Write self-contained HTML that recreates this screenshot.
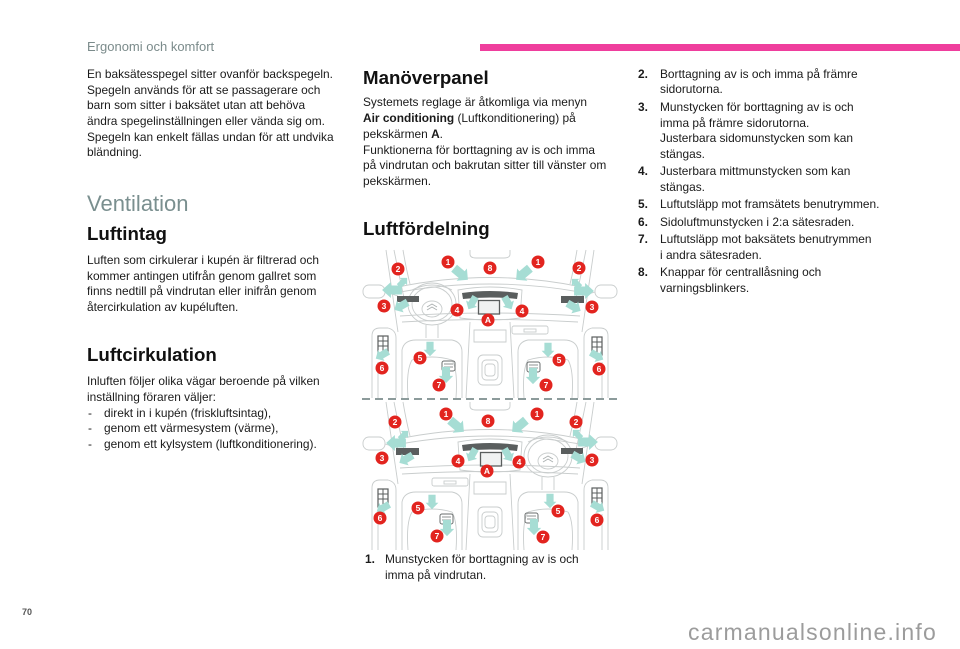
<!DOCTYPE html>
<html><head><meta charset="utf-8">
<style>
html,body{margin:0;padding:0;background:#fff;}
body{width:960px;height:649px;position:relative;overflow:hidden;font-family:"Liberation Sans",Arial,sans-serif;color:#1a1a1a;}
.a{position:absolute;white-space:nowrap;}
.p{font-size:11.9px;line-height:15.6px;}
.h{font-size:18.7px;line-height:18.7px;font-weight:bold;color:#111;}
.li{position:absolute;font-size:11.9px;line-height:15.7px;white-space:nowrap;}
.li b{position:absolute;left:-22px;top:0;}
</style></head><body>

<div class="a" style="left:87px;top:39.5px;font-size:13px;line-height:13px;color:#7b8b8b;">Ergonomi och komfort</div>
<div style="position:absolute;left:480px;top:44px;width:480px;height:6.5px;background:#ef3e9d;"></div>

<div class="a p" style="left:87px;top:67.2px;">En baksätesspegel sitter ovanför backspegeln.<br>Spegeln används för att se passagerare och<br>barn som sitter i baksätet utan att behöva<br>ändra spegelinställningen eller vända sig om.<br>Spegeln kan enkelt fällas undan för att undvika<br>bländning.</div>

<div class="a" style="left:87px;top:193px;font-size:22px;line-height:22px;color:#7a8f8f;">Ventilation</div>

<div class="a h" style="left:87px;top:224.9px;">Luftintag</div>
<div class="a p" style="left:87px;top:253.2px;">Luften som cirkulerar i kupén är filtrerad och<br>kommer antingen utifrån genom gallret som<br>finns nedtill på vindrutan eller inifrån genom<br>återcirkulation av kupéluften.</div>

<div class="a h" style="left:87px;top:345.9px;">Luftcirkulation</div>
<div class="a p" style="left:87px;top:374.2px;">Inluften följer olika vägar beroende på vilken<br>inställning föraren väljer:</div>
<div class="a p" style="left:88px;top:405.6px;">-<br>-<br>-</div>
<div class="a p" style="left:104px;top:405.6px;">direkt in i kupén (friskluftsintag),<br>genom ett värmesystem (värme),<br>genom ett kylsystem (luftkonditionering).</div>

<div class="a h" style="left:363px;top:69.2px;">Manöverpanel</div>
<div class="a p" style="left:363px;top:95.2px;line-height:15.8px;">Systemets reglage är åtkomliga via menyn<br><b>Air conditioning</b> (Luftkonditionering) på<br>pekskärmen <b>A</b>.<br>Funktionerna för borttagning av is och imma<br>på vindrutan och bakrutan sitter till vänster om<br>pekskärmen.</div>

<div class="a h" style="left:363px;top:220.2px;">Luftfördelning</div>

<div class="li" style="left:385px;top:552.2px;"><b style="left:-20px;">1.</b>Munstycken för borttagning av is och<br>imma på vindrutan.</div>

<div class="li" style="left:660px;top:66.7px;"><b>2.</b>Borttagning av is och imma på främre<br>sidorutorna.</div>
<div class="li" style="left:660px;top:99.8px;"><b>3.</b>Munstycken för borttagning av is och<br>imma på främre sidorutorna.<br>Justerbara sidomunstycken som kan<br>stängas.</div>
<div class="li" style="left:660px;top:164.3px;"><b>4.</b>Justerbara mittmunstycken som kan<br>stängas.</div>
<div class="li" style="left:660px;top:197.4px;"><b>5.</b>Luftutsläpp mot framsätets benutrymmen.</div>
<div class="li" style="left:660px;top:214.8px;"><b>6.</b>Sidoluftmunstycken i 2:a sätesraden.</div>
<div class="li" style="left:660px;top:232.2px;"><b>7.</b>Luftutsläpp mot baksätets benutrymmen<br>i andra sätesraden.</div>
<div class="li" style="left:660px;top:265.3px;"><b>8.</b>Knappar för centrallåsning och<br>varningsblinkers.</div>

<svg style="position:absolute;left:362px;top:248px;" width="258" height="304" viewBox="362 248 258 304">
<defs>
<path id="ar" d="M-9,-4.5 L1,-4.5 L1,-8 L9,0 L1,8 L1,4.5 L-9,4.5 Z" fill="#a6ddd4"/>
<g id="art">
 <g fill="none" stroke="#c9cdcd" stroke-width="0.9">
  <path d="M386,250 Q392,290 398,332"/>
  <path d="M394,250 Q399,275 404,298"/>
  <path d="M403,250 Q406,268 410,284"/>
  <path d="M594,250 Q588,290 582,332"/>
  <path d="M586,250 Q581,275 576,298"/>
  <path d="M577,250 Q574,268 570,284"/>
  <path d="M470,250 L470,254 Q470,258 476,258 L504,258 Q510,258 510,254 L510,250"/>
  <rect x="363" y="285" width="22" height="13" rx="6"/>
  <rect x="595" y="285" width="22" height="13" rx="6"/>
  <path d="M385,292 L398,296"/><path d="M595,292 L582,296"/>
  <path d="M398,287 Q490,268 582,287"/>
  <path d="M400,292 Q490,276 580,292"/>
  <path d="M400,316 Q490,310 580,316"/>
  <path d="M402,322 Q490,317 578,322"/>
  <path d="M412,290 Q432,280 452,290"/>
  <ellipse cx="432" cy="304" rx="24" ry="21"/>
  <ellipse cx="432" cy="304" rx="20" ry="17"/>
  <ellipse cx="432" cy="309" rx="10" ry="8"/>
  <path d="M427,307 L432,304 L437,307 M427,310 L432,307 L437,310" stroke="#aab0b0"/>
  <path d="M426,325 L426,338 M438,325 L438,338"/>
  <path d="M458,290 Q490,284 522,290 L520,318 Q490,322 460,318 Z"/>
  <rect x="512" y="326" width="36" height="8" rx="2"/>
  <rect x="524" y="329" width="12" height="3"/>
  <path d="M470,322 L466,398 M510,322 L514,398"/>
  <path d="M474,330 L506,330 L506,342 L474,342 Z"/>
  <rect x="478" y="355" width="24" height="30" rx="5"/>
  <rect x="482" y="360" width="16" height="20" rx="4"/>
  <rect x="485" y="364" width="10" height="12" rx="3"/>
  <path d="M402,398 L402,350 Q404,340 416,340 L452,340 Q462,342 462,352 L462,398"/>
  <path d="M578,398 L578,350 Q576,340 564,340 L528,340 Q518,342 518,352 L518,398"/>
  <path d="M408,398 Q406,370 412,360 M456,398 Q458,370 452,360"/>
  <path d="M572,398 Q574,370 568,360 M524,398 Q522,370 528,360"/>
  <path d="M412,360 Q432,354 452,360 M528,360 Q548,354 568,360"/>
  <path d="M372,398 L372,336 Q372,328 380,328 L388,328 Q396,330 396,338 L396,398"/>
  <path d="M608,398 L608,336 Q608,328 600,328 L592,328 Q584,330 584,338 L584,398"/>
  <path d="M378,362 L378,398 M602,362 L602,398"/>
 </g>
 <path d="M462,293 Q490,289 518,293 L517,299 Q490,296 463,299 Z" fill="#5a5e5e"/>
 <rect x="478.5" y="300.5" width="21" height="13.5" fill="#f0f2f2" stroke="#5a5e5e" stroke-width="1.3"/>
 <rect x="397" y="296" width="22" height="6" fill="#5a5e5e"/>
 <rect x="561" y="296" width="23" height="7" fill="#5a5e5e"/>
 <rect x="378" y="336" width="10" height="18" fill="none" stroke="#5a5e5e" stroke-width="1.2"/>
 <path d="M378,341 L388,341 M378,346 L388,346 M383,336 L383,354" stroke="#5a5e5e" stroke-width="1"/>
 <rect x="592" y="337" width="10" height="18" fill="none" stroke="#5a5e5e" stroke-width="1.2"/>
 <path d="M592,342 L602,342 M592,347 L602,347 M597,337 L597,355" stroke="#5a5e5e" stroke-width="1"/>
 <rect x="442" y="361" width="13" height="10" rx="2" fill="none" stroke="#6a6e6e" stroke-width="1"/>
 <path d="M444,364 L453,364 M444,367 L453,367" stroke="#6a6e6e" stroke-width="0.8"/>
 <rect x="527" y="362" width="13" height="10" rx="2" fill="none" stroke="#6a6e6e" stroke-width="1"/>
 <path d="M529,365 L538,365 M529,368 L538,368" stroke="#6a6e6e" stroke-width="0.8"/>
 <use href="#ar" transform="translate(461,274) rotate(40)"/>
 <use href="#ar" transform="translate(523,274) rotate(140)"/>
 <use href="#ar" transform="translate(403,282) rotate(-45) scale(.65)"/>
 <use href="#ar" transform="translate(392,290) rotate(180) scale(1.1,1)"/>
 <use href="#ar" transform="translate(401,306) rotate(150) scale(.85)"/>
 <use href="#ar" transform="translate(576,283) rotate(-135) scale(.65)"/>
 <use href="#ar" transform="translate(584,291) rotate(0) scale(1.1,1)"/>
 <use href="#ar" transform="translate(574,307) rotate(30) scale(.85)"/>
 <use href="#ar" transform="translate(472,303) rotate(120) scale(.8)"/>
 <use href="#ar" transform="translate(508,303) rotate(60) scale(.8)"/>
 <use href="#ar" transform="translate(430,349) rotate(90) scale(.8)"/>
 <use href="#ar" transform="translate(548,350) rotate(90) scale(.8)"/>
 <use href="#ar" transform="translate(382,355) rotate(150) scale(.8)"/>
 <use href="#ar" transform="translate(597,356) rotate(30) scale(.8)"/>
 <use href="#ar" transform="translate(446,375) rotate(90) scale(.9)"/>
 <use href="#ar" transform="translate(533,376) rotate(90) scale(.9)"/>
</g>
</defs>
<use href="#art"/>
<use href="#art" transform="translate(980,152) scale(-1,1)"/>
<line x1="362" y1="399" x2="618" y2="399" stroke="#8c9b9b" stroke-width="2" stroke-dasharray="8,5"/>
<g fill="#e2241f">
 <circle cx="448" cy="262" r="6.5"/><circle cx="490" cy="268" r="6.5"/><circle cx="538" cy="262" r="6.5"/>
 <circle cx="398" cy="269" r="6.5"/><circle cx="579" cy="268" r="6.5"/>
 <circle cx="384" cy="306" r="6.5"/><circle cx="592" cy="307" r="6.5"/>
 <circle cx="457" cy="310" r="6.5"/><circle cx="522" cy="311" r="6.5"/><circle cx="488" cy="320" r="6.5"/>
 <circle cx="420" cy="358" r="6.5"/><circle cx="559" cy="360" r="6.5"/>
 <circle cx="382" cy="368" r="6.5"/><circle cx="599" cy="369" r="6.5"/>
 <circle cx="439" cy="385" r="6.5"/><circle cx="546" cy="385" r="6.5"/>
 <circle cx="446" cy="414" r="6.5"/><circle cx="488" cy="421" r="6.5"/><circle cx="537" cy="414" r="6.5"/>
 <circle cx="395" cy="422" r="6.5"/><circle cx="576" cy="422" r="6.5"/>
 <circle cx="382" cy="458" r="6.5"/><circle cx="592" cy="460" r="6.5"/>
 <circle cx="458" cy="461" r="6.5"/><circle cx="519" cy="462" r="6.5"/><circle cx="487" cy="471" r="6.5"/>
 <circle cx="418" cy="508" r="6.5"/><circle cx="558" cy="511" r="6.5"/>
 <circle cx="380" cy="518" r="6.5"/><circle cx="597" cy="520" r="6.5"/>
 <circle cx="437" cy="536" r="6.5"/><circle cx="543" cy="537" r="6.5"/>
</g>
<g fill="#fff" font-family="Liberation Sans, Arial, sans-serif" font-weight="bold" font-size="8.5" text-anchor="middle">
 <text x="448" y="265">1</text><text x="490" y="271">8</text><text x="538" y="265">1</text>
 <text x="398" y="272">2</text><text x="579" y="271">2</text>
 <text x="384" y="309">3</text><text x="592" y="310">3</text>
 <text x="457" y="313">4</text><text x="522" y="314">4</text><text x="488" y="323">A</text>
 <text x="420" y="361">5</text><text x="559" y="363">5</text>
 <text x="382" y="371">6</text><text x="599" y="372">6</text>
 <text x="439" y="388">7</text><text x="546" y="388">7</text>
 <text x="446" y="417">1</text><text x="488" y="424">8</text><text x="537" y="417">1</text>
 <text x="395" y="425">2</text><text x="576" y="425">2</text>
 <text x="382" y="461">3</text><text x="592" y="463">3</text>
 <text x="458" y="464">4</text><text x="519" y="465">4</text><text x="487" y="474">A</text>
 <text x="418" y="511">5</text><text x="558" y="514">5</text>
 <text x="380" y="521">6</text><text x="597" y="523">6</text>
 <text x="437" y="539">7</text><text x="543" y="540">7</text>
</g>
</svg>

<div class="a" style="left:22px;top:607px;font-size:9px;line-height:10px;color:#555;font-weight:bold;">70</div>
<div class="a" style="left:688px;top:620px;font-size:23px;line-height:24px;letter-spacing:1.2px;color:#9c9c9c;">carmanualsonline.info</div>

</body></html>
